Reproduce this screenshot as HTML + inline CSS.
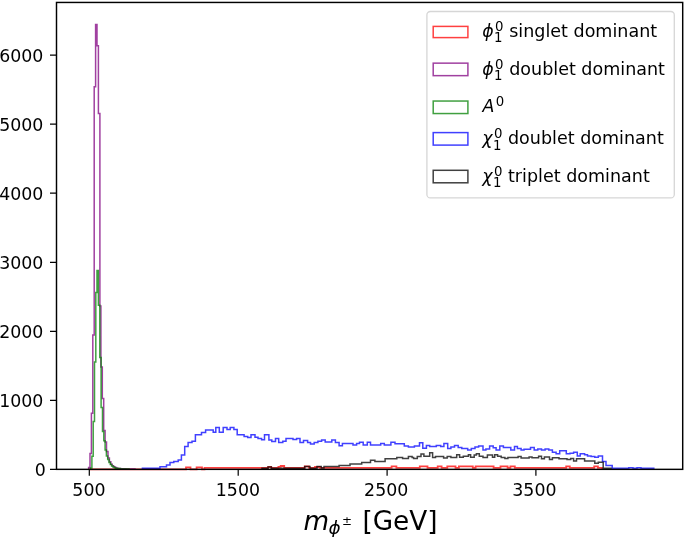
<!DOCTYPE html>
<html><head><meta charset="utf-8"><title>plot</title><style>html,body{margin:0;padding:0;background:#fff}svg{display:block}</style></head><body>
<svg width="685" height="537" viewBox="0 0 685 537" font-family="'DejaVu Sans', 'Liberation Sans', sans-serif" font-size="17.36px" fill="#000">
<rect width="685" height="537" fill="#fff"/>
<defs><filter id="soft" x="0" y="0" width="100%" height="100%" filterUnits="userSpaceOnUse" primitiveUnits="userSpaceOnUse"><feGaussianBlur stdDeviation="0.35"/></filter></defs>
<g filter="url(#soft)">
<path d="M89.3 469.4V469.3H186.0V467.4H190.5V469.3H196.6V467.4H202.0V469.3H204.5V467.8H268.2V466.9H271.1V467.8H278.4V466.9H280.7V466.0H284.2V467.8H304.7V466.4H309.0V467.8H315.0V467.0H320.0V467.8H391.6V466.4H396.4V467.8H419.8V466.4H427.5V467.8H437.7V466.4H441.6V467.8H447.3V466.4H455.5V467.8H458.9V466.4H472.8V467.8H475.6V466.4H493.6V467.8H500.5V466.4H507.6V467.8H510.4V466.4H514.8V467.8H566.2V466.4H569.8V467.8H594.2V466.4H597.9V467.8H602.0V469.4" fill="none" stroke="#ff0000" stroke-opacity="0.75" stroke-width="1.8" stroke-linejoin="miter"/>
<path d="M88.6 469.4V467.4H90.0V453.4H91.4V413.3H92.8V335.1H94.2V86.8H95.6V24.5H97.0V45.7H98.4V113.6H99.9V306.0H100.9V367.0H102.3V398.4H103.7V430.5H105.1V442.0H106.5V451.5H108.0V458.0H109.4V461.8H110.8V464.2H112.2V465.7H113.6V466.8H115.0V467.5H116.4V468.0H117.8V468.4H120.6V468.7H125.6V468.9H135.0V469.4" fill="none" stroke="#800080" stroke-opacity="0.75" stroke-width="1.5" stroke-linejoin="miter"/>
<path d="M90.5 469.4V468.0H91.9V456.3H93.2V421.5H94.5V362.0H95.8V292.4H97.0V270.6H98.4V305.3H99.8V357.5H101.1V407.4H102.5V431.6H103.8V440.8H105.1V450.0H106.4V456.0H107.7V459.5H109.0V462.5H110.3V464.5H111.6V466.0H113.0V467.0H114.3V467.7H115.6V468.2H116.9V468.6H120.0V468.9H129.0V469.4" fill="none" stroke="#008000" stroke-opacity="0.75" stroke-width="1.5" stroke-linejoin="miter"/>
<path d="M142.4 469.4V468.3H160.0V466.8H166.5V465.0H170.0V462.4H173.8V461.4H178.2V460.0H181.4V455.1H184.7V446.4H188.1V442.4H192.0V441.3H195.4V434.7H201.5V432.5H205.6V430.0H213.2V432.2H215.8V427.4H219.3V432.2H223.2V427.4H227.0V429.6H230.2V427.4H233.9V429.6H237.2V434.7H244.1V436.5H247.7V437.6H251.0V434.7H255.0V437.2H258.0V438.4H261.6V439.8H264.5V434.7H268.9V440.1H271.8V441.6H275.5V438.6H278.7V442.4H282.8V441.3H286.0V438.4H293.0V439.5H296.6V438.4H300.0V442.4H303.5V440.5H307.6V442.4H310.5V443.9H314.2V442.4H317.9V441.3H321.6V440.1H325.2V442.0H331.8V440.1H335.4V442.4H339.1V445.7H342.4V443.5H353.0V444.9H356.6V443.5H359.5V442.3H363.2V444.9H367.3V442.3H370.5V444.9H380.7V443.5H384.3V444.9H390.9V442.3H395.0V443.8H404.3V445.9H408.4V447.1H414.4V445.9H419.5V442.7H422.8V448.3H426.4V445.4H429.7V446.4H436.3V445.4H440.7V446.4H443.9V443.5H447.7V448.6H450.9V447.1H454.5V445.4H458.2V447.4H461.8V448.6H467.7V450.0H471.3V448.6H475.0V447.1H478.6V445.9H483.0V450.0H485.9V448.9H489.6V445.9H493.2V447.8H496.1V450.0H499.8V445.9H503.4V447.4H510.8V450.0H514.5V446.4H517.4V448.6H521.1V450.0H524.0V449.3H530.5V447.4H534.2V450.0H537.8V448.9H541.5V450.0H545.1V448.9H548.8V450.0H552.4V452.2H556.1V453.7H559.7V450.8H566.3V453.7H570.0V453.2H573.6V452.2H577.3V455.9H580.2V453.7H584.6V454.7H587.5V455.9H591.1V456.6H594.8V457.3H598.3V455.9H602.5V461.6H606.0V465.4H612.2V468.2H628.8V467.7H633.0V468.2H637.0V467.7H641.0V468.3H653.8V469.4" fill="none" stroke="#0000ff" stroke-opacity="0.75" stroke-width="1.5" stroke-linejoin="miter"/>
<path d="M262.0 469.4V468.3H268.0V467.0H271.4V468.3H304.7V466.6H310.0V468.3H317.0V466.6H321.3V468.0H324.0V466.4H339.1V465.4H350.0V463.9H361.7V462.4H370.5V460.3H374.9V461.4H385.1V458.8H396.8V457.6H402.6V458.4H408.4V456.6H412.1V457.6H413.6V458.5H417.3V456.6H421.0V454.1H423.9V456.2H429.7V452.7H432.6V457.6H435.5V456.6H443.6V458.1H447.2V456.6H450.9V457.6H456.7V454.7H459.6V457.3H463.3V456.2H468.4V454.7H470.6V457.3H474.2V455.1H476.4V453.7H479.3V456.2H483.0V457.6H487.4V455.1H492.5V457.3H494.7V454.7H497.6V456.2H501.2V457.6H504.9V458.5H507.9V457.6H518.1V456.6H521.1V458.1H529.1V456.9H532.0V457.8H538.6V456.3H541.5V458.8H544.4V456.9H549.5V459.5H552.4V457.8H559.0V458.8H567.0V459.5H570.7V458.5H573.6V461.0H576.5V458.8H584.6V461.0H594.8V463.3H598.3V462.2H603.2V468.2H611.0V469.4" fill="none" stroke="#000000" stroke-opacity="0.75" stroke-width="1.5" stroke-linejoin="miter"/>
<path d="M89.3 469.35v6.5M238.2 469.35v6.5M387.1 469.35v6.5M535.9 469.35v6.5M56.5 469.4h-6.5M56.5 400.3h-6.5M56.5 331.3h-6.5M56.5 262.3h-6.5M56.5 193.2h-6.5M56.5 124.2h-6.5M56.5 55.2h-6.5" stroke="#000" stroke-width="1.2" fill="none"/>
<rect x="56.5" y="2.45" width="626.2" height="466.9" fill="none" stroke="#000" stroke-width="1.45"/>
<text transform="translate(88.9 495.5) scale(1.0 1.0)" text-anchor="middle">500</text>
<text transform="translate(237.9 495.5) scale(1.0 1.0)" text-anchor="middle">1500</text>
<text transform="translate(386.2 495.5) scale(1.0 1.0)" text-anchor="middle">2500</text>
<text transform="translate(534.4 495.5) scale(1.0 1.0)" text-anchor="middle">3500</text>
<text transform="translate(45.8 476.0) scale(1.0 1.0)" text-anchor="end">0</text>
<text transform="translate(43.4 406.9) scale(1.0 1.0)" text-anchor="end">1000</text>
<text transform="translate(43.4 337.9) scale(1.0 1.0)" text-anchor="end">2000</text>
<text transform="translate(43.4 268.9) scale(1.0 1.0)" text-anchor="end">3000</text>
<text transform="translate(43.4 199.8) scale(1.0 1.0)" text-anchor="end">4000</text>
<text transform="translate(43.4 130.8) scale(1.0 1.0)" text-anchor="end">5000</text>
<text transform="translate(43.4 61.8) scale(1.0 1.0)" text-anchor="end">6000</text>
<text transform="translate(303.6 529.8) scale(1.01 1.0)" font-style="italic" font-size="26.04px">m</text>
<text transform="translate(328.5 534.2) scale(1.01 1.0)" font-style="italic" font-size="18.23px">ϕ</text>
<text transform="translate(342.0 525.3) scale(1.01 1.0)" font-size="11.85px">±</text>
<text transform="translate(362.4 529.8) scale(1.01 1.0)" font-size="26.04px">[GeV]</text>
<rect x="426.9" y="11.5" width="247.4" height="186.4" rx="3.5" fill="#fff" fill-opacity="0.8" stroke="#ccc" stroke-opacity="0.8" stroke-width="1.3"/>
<rect x="433.2" y="26.40" width="34.7" height="11.2" fill="none" stroke="#ff0000" stroke-opacity="0.75" stroke-width="1.5"/>
<rect x="433.2" y="63.15" width="34.7" height="12.5" fill="none" stroke="#800080" stroke-opacity="0.75" stroke-width="1.5"/>
<rect x="433.2" y="101.05" width="34.7" height="12.5" fill="none" stroke="#008000" stroke-opacity="0.75" stroke-width="1.5"/>
<rect x="433.2" y="132.60" width="34.7" height="12.5" fill="none" stroke="#0000ff" stroke-opacity="0.75" stroke-width="1.5"/>
<rect x="433.2" y="170.30" width="34.7" height="12.5" fill="none" stroke="#000000" stroke-opacity="0.75" stroke-width="1.5"/>
<text transform="translate(482.3 36.9) scale(1.0 1.0)" font-style="italic">ϕ</text>
<text transform="translate(495.0 30.5) scale(1 1)" font-size="13.30px">0</text>
<text transform="translate(493.9 41.5) scale(1 1)" font-size="13.30px">1</text>
<text transform="translate(509.2 36.8) scale(1.01 1.0)">singlet dominant</text>
<text transform="translate(482.3 75.0) scale(1.0 1.0)" font-style="italic">ϕ</text>
<text transform="translate(495.0 68.6) scale(1 1)" font-size="13.30px">0</text>
<text transform="translate(493.9 79.6) scale(1 1)" font-size="13.30px">1</text>
<text transform="translate(509.2 74.9) scale(1.01 1.0)">doublet dominant</text>
<text transform="translate(482.5 111.7) scale(1 1)" font-style="italic">A</text>
<text transform="translate(495.8 105.5) scale(1 1)" font-size="13.30px">0</text>
<text transform="translate(482.3 144.2) scale(1.0 1.0)" font-style="italic">χ</text>
<text transform="translate(494.0 137.7) scale(1 1)" font-size="13.30px">0</text>
<text transform="translate(492.9 149.5) scale(1 1)" font-size="13.30px">1</text>
<text transform="translate(508.0 143.7) scale(1.01 1.0)">doublet dominant</text>
<text transform="translate(482.3 182.0) scale(1.0 1.0)" font-style="italic">χ</text>
<text transform="translate(494.0 175.5) scale(1 1)" font-size="13.30px">0</text>
<text transform="translate(492.9 187.3) scale(1 1)" font-size="13.30px">1</text>
<text transform="translate(508.0 181.5) scale(1.01 1.0)">triplet dominant</text>
</g>
</svg>
</body></html>
